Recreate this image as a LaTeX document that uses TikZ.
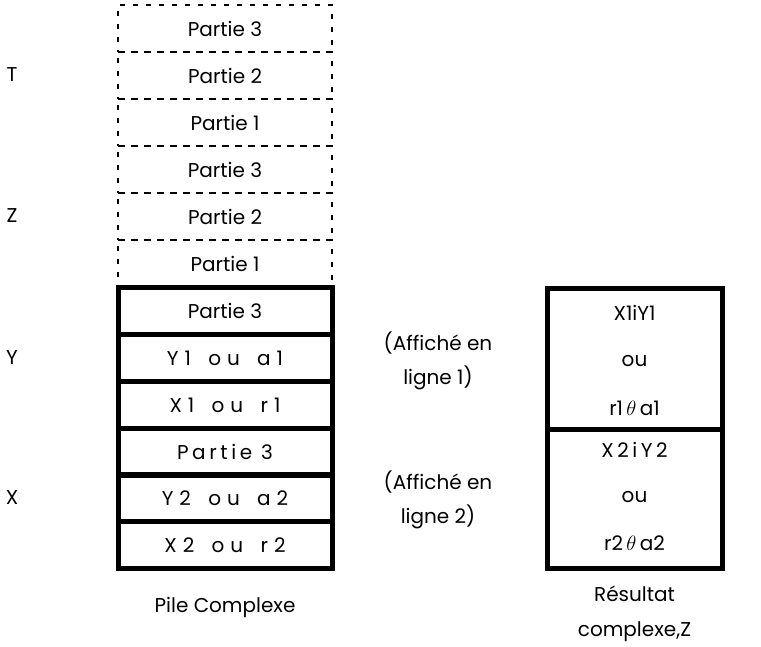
\documentclass[tikz,border=0pt]{standalone}
\usepackage{fontspec}
\setmainfont{Poppins}
\begin{document}
\begin{tikzpicture}[x=1pt,y=-1pt,
  txt/.style={font=\fontsize{20}{24}\selectfont, inner sep=0pt},
  cell/.style={txt, minimum width=214pt, minimum height=47pt, inner sep=0pt},
  dcell/.style={cell, draw, line width=1.6pt, dash pattern=on 5pt off 8pt},
  scell/.style={cell, draw, line width=5pt},
  rcell/.style={txt, draw, line width=5pt, minimum width=175pt, inner sep=0pt},
  spacedA/.style={font=\fontsize{20}{24}\selectfont\addfontfeature{LetterSpace=30}},
  spacedB/.style={font=\fontsize{20}{24}\selectfont\addfontfeature{LetterSpace=18}}
]
\useasboundingbox (0,0) rectangle (761,646);
% dashed upper part of stack
\node[dcell] (d6) at (225,28.5) {Partie 3};
\node[dcell] (d5) at (225,75.5) {Partie 2};
\node[dcell] (d4) at (225,122.5) {Partie 1};
\node[dcell] (d3) at (225,169.5) {Partie 3};
\node[dcell] (d2) at (225,216.5) {Partie 2};
\node[dcell] (d1) at (225,263.5) {Partie 1};
% solid lower part
\node[scell] (s6) at (225,311) {Partie 3};
\node[scell, spacedA] (s5) at (225,358) {Y1\hspace{6pt} ou\hspace{6pt} a1};
\node[scell, spacedA] (s4) at (225,405) {X1\hspace{6pt} ou\hspace{6pt} r1};
\node[scell, spacedB] (s3) at (225,452) {Partie 3};
\node[scell, spacedA] (s2) at (225,498) {Y2\hspace{6pt} ou\hspace{6pt} a2};
\node[scell, spacedA] (s1) at (225,545) {X2\hspace{6pt} ou\hspace{6pt} r2};
% level labels
\node[txt] (lT) at (12,75) {T};
\node[txt] (lZ) at (12,216) {Z};
\node[txt] (lY) at (12,358) {Y};
\node[txt] (lX) at (12,498) {X};
% middle notes
\node[txt] (n1a) at (438,343) {(Affiché en};
\node[txt] (n1b) at (438,378) {ligne 1)};
\node[txt] (n2a) at (438,482) {(Affiché en};
\node[txt] (n2b) at (438,517) {ligne 2)};
% result box
\node[rcell, minimum height=141pt] (r1) at (634.5,358.5) {};
\node[rcell, minimum height=139pt] (r2) at (634.5,498.5) {};
\node[txt] (r1a) at (634.5,313) {X1iY1};
\node[txt] (r1b) at (634.5,361) {ou};
\node[txt] (r1c) at (634.5,408) {r1\,$\theta$\,a1};
\node[txt, spacedB] (r2a) at (634.5,450) {X2iY2};
\node[txt] (r2b) at (634.5,497) {ou};
\node[txt] (r2c) at (634.5,543) {r2\,$\theta$\,a2};
% captions
\node[txt] (cap1) at (225,607) {Pile Complexe};
\node[txt] (cap2) at (634.5,594) {Résultat};
\node[txt] (cap3) at (634.5,632) {complexe,Z};
\end{tikzpicture}
\end{document}
